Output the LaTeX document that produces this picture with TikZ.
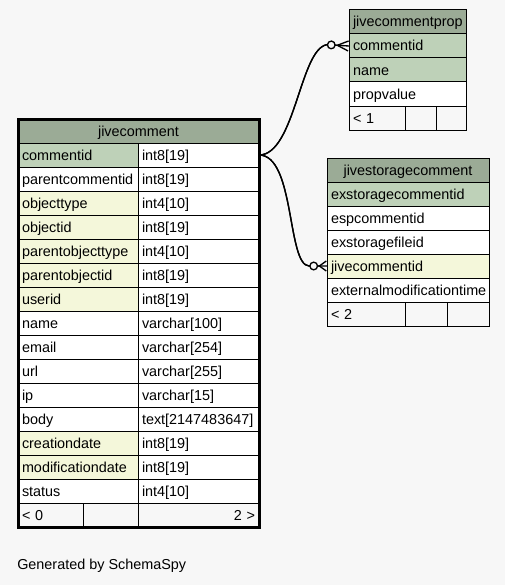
\documentclass[tikz,border=0pt]{standalone}
\usepackage{fontspec}
\setmainfont{Liberation Sans}
\usetikzlibrary{arrows.meta}
\definecolor{bgc}{HTML}{F7F7F7}
\definecolor{head}{HTML}{9BAB96}
\definecolor{pk}{HTML}{BED1B8}
\definecolor{fk}{HTML}{F4F7DA}
\definecolor{plain}{HTML}{FFFFFF}
\tikzset{
  cell/.style={draw=black, line width=0.75pt, anchor=north west, minimum height=18pt,
    inner xsep=3pt, inner ysep=0pt, outer sep=0pt, text height=7.5pt, text depth=0pt,
    font=\fontsize{10.8pt}{12pt}\selectfont},
  crowtip/.style={-{Circle[open,fill=bgc,length=6.75pt] Straight Barb[reversed,length=#1,width=7.5pt]}},
  fkedge/.style={draw, line width=1pt, postaction={draw, crowtip=#1}}
}
% one table cell: [align] name, x, y, width (px), fill, text
\newcommand\cellbox[7][left]{%
  \pgfmathsetmacro\cw{(#5-8)*0.75}%
  \node[cell, align=#1, fill=#6, text width=\cw pt] (#2) at (#3,#4) {#7};}

\begin{document}
\begin{tikzpicture}[x=0.75pt,y=-0.75pt]
\fill[bgc] (0,0) rectangle (505,585);
\useasboundingbox (0,0) rectangle (505,585);
% jivecomment
\cellbox[center]{jc-title}{18}{119}{241}{head}{jivecomment}
\foreach \nm/\ty/\fl [count=\i] in {commentid/int8[19]/pk, parentcommentid/int8[19]/plain,
  objecttype/int4[10]/fk, objectid/int8[19]/fk, parentobjecttype/int4[10]/fk,
  parentobjectid/int8[19]/fk, userid/int8[19]/fk, name/varchar[100]/plain,
  email/varchar[254]/plain, url/varchar[255]/plain, ip/varchar[15]/plain,
  body/text[2147483647]/plain, creationdate/int8[19]/fk, modificationdate/int8[19]/fk,
  status/int4[10]/plain}{%
  \pgfmathsetmacro\yy{143+24*(\i-1)}
  \cellbox{jc-\nm}{18}{\yy}{120}{\fl}{\nm}
  \cellbox{jc-\nm-type}{138}{\yy}{121}{plain}{\ty}}
\cellbox{jc-ft1}{18}{503}{65}{bgc}{< 0}
\cellbox{jc-ft2}{83}{503}{55}{bgc}{}
\cellbox[right]{jc-ft3}{138}{503}{121}{bgc}{2 >}
\draw[line width=2.25pt] (jc-title.north west) rectangle (jc-ft3.south east);
% jivecommentprop
\cellbox[center]{jcp-title}{349}{10}{117}{head}{jivecommentprop}
\foreach \nm/\fl [count=\i] in {commentid/pk, name/pk, propvalue/plain}{%
  \pgfmathsetmacro\yy{34+24*(\i-1)}
  \cellbox{jcp-\nm}{349}{\yy}{117}{\fl}{\nm}}
\cellbox{jcp-ft1}{349}{106}{56}{bgc}{< 1}
\cellbox{jcp-ft2}{405}{106}{31}{bgc}{}
\cellbox{jcp-ft3}{436}{106}{30}{bgc}{}
% jivestoragecomment
\cellbox[center]{jsc-title}{327}{158}{162}{head}{jivestoragecomment}
\foreach \nm/\fl [count=\i] in {exstoragecommentid/pk, espcommentid/plain,
  exstoragefileid/plain, jivecommentid/fk, externalmodificationtime/plain}{%
  \pgfmathsetmacro\yy{182+24*(\i-1)}
  \cellbox{jsc-\nm}{327}{\yy}{162}{\fl}{\nm}}
\cellbox{jsc-ft1}{327}{302}{78}{bgc}{< 2}
\cellbox{jsc-ft2}{405}{302}{42}{bgc}{}
\cellbox{jsc-ft3}{447}{302}{42}{bgc}{}
% foreign keys, straight last piece carries the crow's foot
\coordinate (jcp-in) at ([xshift=-16.5pt,yshift=1pt]jcp-commentid.west);
\coordinate (jsc-in) at ([xshift=-13.5pt]jsc-jivecommentid.west);
\draw[fkedge=8.25pt] (jc-commentid-type.east) .. controls +(36,0) and +(-27,4) .. (jcp-in) -- (jcp-commentid.west);
\draw[fkedge=5.25pt] (jc-commentid-type.east) .. controls +(36,0) and +(-22,-1) .. (jsc-in) -- (jsc-jivecommentid.west);
\node[anchor=base west, inner sep=0pt, font=\fontsize{10.8pt}{12pt}\selectfont] (credit) at (17,569) {Generated by SchemaSpy};
\end{tikzpicture}
\end{document}
